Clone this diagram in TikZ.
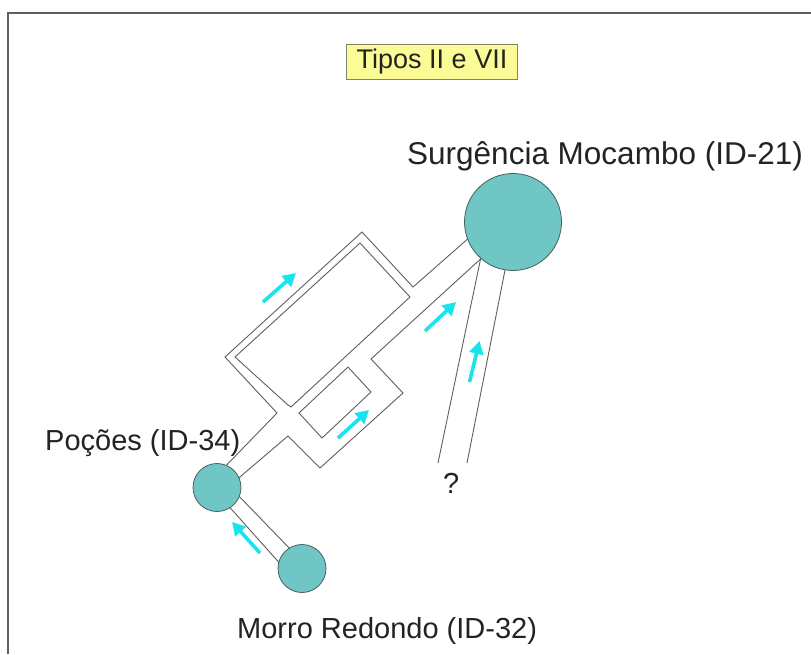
\documentclass[tikz,border=0pt]{standalone}
\usepackage{fontspec}
\setmainfont{Liberation Sans}
\usetikzlibrary{arrows.meta}
\definecolor{wall}{RGB}{95,95,95}
\definecolor{pool}{RGB}{112,197,197}
\definecolor{poolrim}{RGB}{70,95,95}
\definecolor{flow}{RGB}{25,228,238}
\definecolor{tag}{RGB}{252,252,150}
\definecolor{tagrim}{RGB}{130,130,100}
\definecolor{ink}{RGB}{35,35,35}
\begin{document}
\begin{tikzpicture}[x=1pt,y=-1pt,
  wallline/.style={draw=wall,line width=0.9pt,line join=miter},
  spring/.style={circle,draw=poolrim,fill=pool,line width=0.8pt,inner sep=0pt},
  flowarrow/.style={draw=flow,line width=3.6pt,-{Triangle[length=13pt,width=14pt]}},
  label/.style={text=ink,inner sep=0pt,font=\fontsize{29pt}{34pt}\selectfont},
  frameline/.style={draw=wall,line width=2pt}]
\useasboundingbox (0,0) rectangle (811,654);
\fill[white] (0,0) rectangle (811,654);
\draw[frameline] (8,654) -- (8,13) -- (811,13);

% title tag
\node[draw=tagrim,fill=tag,line width=0.8pt,inner xsep=10pt,inner ysep=5pt,
      text=ink,font=\fontsize{27pt}{32pt}\selectfont] (title) at (432,62) {Tipos II e VII};

% conduit walls
% outer wall: main conduit top, big loop, Poções conduit top
\draw[wallline] (487,222) -- (413,287) -- (362,232) -- (225,357) -- (277,413) -- (216,476);
% big island with the small jog at its lower corner
\draw[wallline] (235,357) -- (360,243) -- (410,297) -- (291,407) -- (288,405) -- cycle;
% main conduit bottom, small loop outer wall, Poções conduit bottom
\draw[wallline] (486,254) -- (371,359) -- (403,393) -- (320,468) -- (288,436) -- (234,482);
% small island
\draw[wallline] (299,413) -- (348,367) -- (371,392) -- (322,438) -- cycle;
% conduit towards the unknown source
\draw[wallline] (482,252) -- (438,463);
\draw[wallline] (507,260) -- (467,463);
% conduit Morro Redondo - Poções
\draw[wallline] (225,502) -- (283,567);
\draw[wallline] (235,492) -- (293,552);

% springs
\node[spring,minimum size=97pt] (moc) at (513,222) {};
\node[spring,minimum size=48pt] (poc) at (217,487.5) {};
\node[spring,minimum size=48pt] (mor) at (302,568.5) {};

% flow directions
\draw[flowarrow] (263,302) -- (296,273);
\draw[flowarrow] (425,331) -- (456,302);
\draw[flowarrow] (469.5,382) -- (479.5,341);
\draw[flowarrow] (338,438) -- (369,410);
\draw[flowarrow] (260,553) -- (232,522);

% labels
\node[label,anchor=base west,font=\fontsize{31.5pt}{36pt}\selectfont] (lmoc) at (407,164) {Surgência Mocambo (ID-21)};
\node[label,anchor=base west] (lpoc) at (45,450) {Poções (ID-34)};
\node[label,anchor=base west] (lmor) at (237,638) {Morro Redondo (ID-32)};
\node[label,anchor=base west] (lunk) at (443,493) {?};
\end{tikzpicture}
\end{document}
